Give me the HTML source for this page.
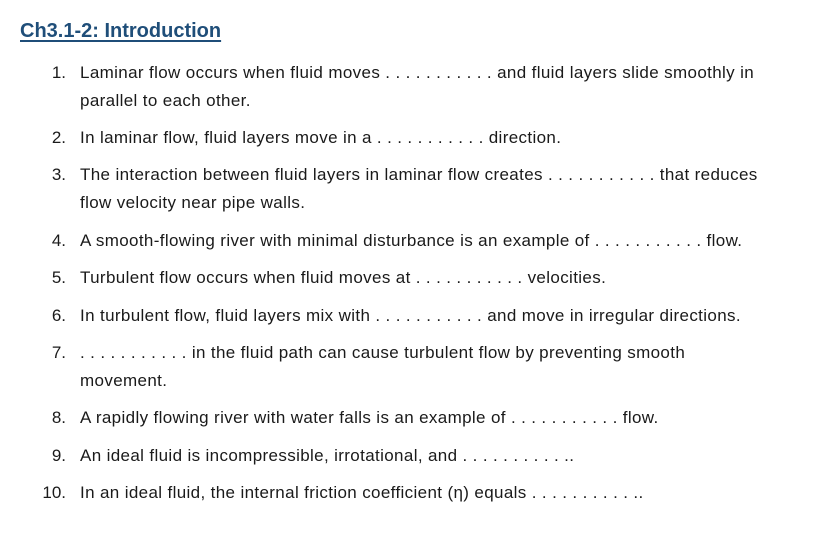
<!DOCTYPE html>
<html><head><meta charset="utf-8"><style>
body{margin:0;width:818px;height:533px;background:#fff;position:relative;overflow:hidden;font-family:"Liberation Sans",sans-serif;color:#1a1a1a}
.t{position:absolute;left:20px;top:17px;font-size:20px;font-weight:bold;color:#1F4E79;text-decoration:underline;text-decoration-thickness:2px;text-underline-offset:3px;line-height:28px;white-space:nowrap}
.l{position:absolute;left:80px;font-size:17px;letter-spacing:0.36px;line-height:28px;height:28px;white-space:nowrap}
.n{position:absolute;width:40px;left:26px;text-align:right;font-size:17px;line-height:28px;white-space:nowrap}
</style></head><body>
<div class="t">Ch3.1-2: Introduction</div>
<div class="n" style="top:59px">1.</div><div class="l" style="top:59px">Laminar flow occurs when fluid moves . . . . . . . . . . . and fluid layers slide smoothly in</div>
<div class="l" style="top:87px">parallel to each other.</div>
<div class="n" style="top:124px">2.</div><div class="l" style="top:124px">In laminar flow, fluid layers move in a . . . . . . . . . . . direction.</div>
<div class="n" style="top:161px">3.</div><div class="l" style="top:161px">The interaction between fluid layers in laminar flow creates . . . . . . . . . . . that reduces</div>
<div class="l" style="top:189px">flow velocity near pipe walls.</div>
<div class="n" style="top:227px">4.</div><div class="l" style="top:227px">A smooth-flowing river with minimal disturbance is an example of . . . . . . . . . . . flow.</div>
<div class="n" style="top:264px">5.</div><div class="l" style="top:264px">Turbulent flow occurs when fluid moves at . . . . . . . . . . . velocities.</div>
<div class="n" style="top:302px">6.</div><div class="l" style="top:302px">In turbulent flow, fluid layers mix with . . . . . . . . . . . and move in irregular directions.</div>
<div class="n" style="top:339px">7.</div><div class="l" style="top:339px">. . . . . . . . . . . in the fluid path can cause turbulent flow by preventing smooth</div>
<div class="l" style="top:367px">movement.</div>
<div class="n" style="top:404px">8.</div><div class="l" style="top:404px">A rapidly flowing river with water falls is an example of . . . . . . . . . . . flow.</div>
<div class="n" style="top:442px">9.</div><div class="l" style="top:442px">An ideal fluid is incompressible, irrotational, and . . . . . . . . . . ..</div>
<div class="n" style="top:479px;left:20px;width:46px">10.</div><div class="l" style="top:479px">In an ideal fluid, the internal friction coefficient (η) equals . . . . . . . . . . ..</div>
</body></html>
